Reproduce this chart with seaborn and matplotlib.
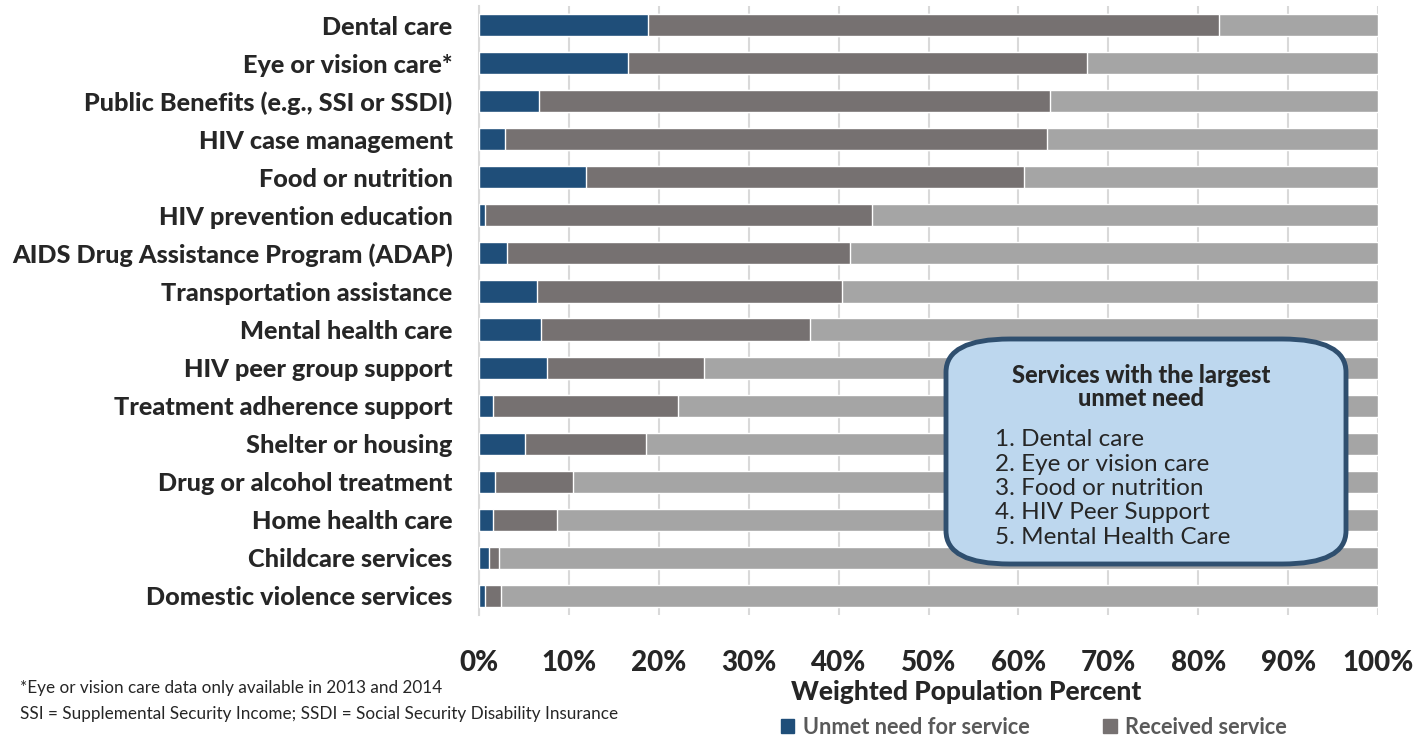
import numpy as np
import pandas as pd
import seaborn as sns
import matplotlib.pyplot as plt
from matplotlib.patches import FancyBboxPatch, Patch

services = ["Dental care", "Eye or vision care*", "Public Benefits (e.g., SSI or SSDI)",
            "HIV case management", "Food or nutrition", "HIV prevention education",
            "AIDS Drug Assistance Program (ADAP)", "Transportation assistance",
            "Mental health care", "HIV peer group support", "Treatment adherence support",
            "Shelter or housing", "Drug or alcohol treatment", "Home health care",
            "Childcare services", "Domestic violence services"]
unmet = [18.8, 16.6, 6.7, 2.9, 11.9, 0.7, 3.1, 6.5, 6.9, 7.6, 1.6, 5.1, 1.8, 1.6, 1.1, 0.7]
received = [63.5, 51.0, 56.8, 60.3, 48.7, 43.0, 38.2, 33.9, 29.9, 17.4, 20.5, 13.5, 8.7, 7.1, 1.1, 1.7]
ticks = [0, 10, 20, 30, 40, 50, 60, 70, 80, 90, 100]

c_unmet = "#1F4E79"
c_recv = "#767171"
c_none = "#A5A5A5"

df = pd.DataFrame({"service": services, "unmet": unmet, "received": received})
df["cum"] = df["unmet"] + df["received"]
df["total"] = 100

sns.set_theme(style="white")
plt.rcParams["font.family"] = ["Lato", "DejaVu Sans"]

fig = plt.figure(figsize=(14.18, 7.35), dpi=100)
ax = fig.add_axes([479 / 1418, 1 - 615 / 735, 899 / 1418, 609 / 735])

# stacked bars: draw full length first, then overlay cumulative parts
sns.barplot(data=df, x="total", y="service", color=c_none, width=0.58, ax=ax,
            saturation=1, orient="h", zorder=2)
sns.barplot(data=df, x="cum", y="service", color=c_recv, width=0.58, ax=ax,
            saturation=1, orient="h", zorder=3)
sns.barplot(data=df, x="unmet", y="service", color=c_unmet, width=0.58, ax=ax,
            saturation=1, orient="h", zorder=4)

ax.set_xlim(0, 100)
ax.set_ylim(15.5, -0.5)
ax.set_xticks(ticks)
ax.set_xticklabels([f"{t}%" for t in ticks], fontsize=20, fontweight="black")
ax.tick_params(axis="x", length=0, pad=25)
ax.tick_params(axis="y", length=0, pad=19)
for lab in ax.get_yticklabels():
    lab.set_fontsize(18.2)
    lab.set_fontweight("black")
ax.set_ylabel("")
ax.set_xlabel("")
ax.grid(axis="x", color="#D9D9D9", linewidth=1.5, zorder=0)
ax.set_axisbelow(True)
for s in ["top", "right", "bottom"]:
    ax.spines[s].set_visible(False)
ax.spines["left"].set_color("#D9D9D9")
ax.spines["left"].set_linewidth(1.5)

fig.text(966 / 1418, 1 - 692 / 735, "Weighted Population Percent", ha="center", va="center",
         fontsize=19, fontweight="black")

fig.text(20 / 1418, 1 - 688 / 735, "*Eye or vision care data only available in 2013 and 2014",
         fontsize=12.3, va="center")
fig.text(20 / 1418, 1 - 714 / 735, "SSI = Supplemental Security Income; SSDI = Social Security Disability Insurance",
         fontsize=12.3, va="center")

handles = [Patch(color=c_unmet, label="Unmet need for service"),
           Patch(color=c_recv, label="Received service")]
leg = fig.legend(handles=handles, loc="center left", bbox_to_anchor=(772 / 1418, 1 - 727 / 735),
                 ncol=2, frameon=False, fontsize=15.7, handlelength=0.6, handleheight=0.6,
                 handletextpad=0.4, columnspacing=3.4, borderaxespad=0)
for t in leg.get_texts():
    t.set_color("#595959")
    t.set_fontweight("bold")

# annotation box
box = FancyBboxPatch((946 / 1418, 1 - 564 / 735), 400 / 1418, 225 / 735,
                     boxstyle="round,pad=0,rounding_size=0.045", transform=fig.transFigure,
                     facecolor="#BDD7EE", edgecolor="#2F4F6F", linewidth=3.5, zorder=10)
fig.patches.append(box)
fig.text(1141 / 1418, 1 - 387 / 735, "Services with the largest\nunmet need", ha="center", va="center",
         fontsize=17, fontweight="black", linespacing=1.0, zorder=11)
items = ["1. Dental care", "2. Eye or vision care", "3. Food or nutrition",
         "4. HIV Peer Support", "5. Mental Health Care"]
for i, it in enumerate(items):
    fig.text(995 / 1418, 1 - (440 + i * 24.3) / 735, it, ha="left", va="center",
             fontsize=17.5, zorder=11)

fig.savefig("out.png", dpi=100)
